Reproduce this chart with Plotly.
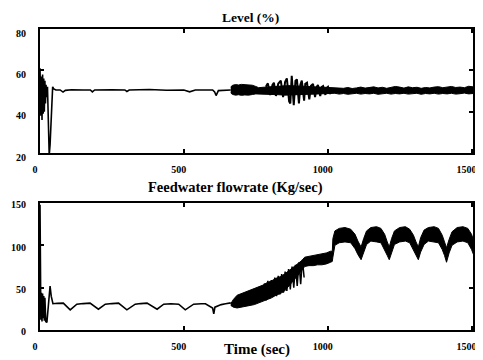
import plotly.graph_objects as go

# ---------------- Level (%) ----------------
level_t = [0, 1, 3, 5, 7, 9, 11, 13, 15, 17, 19, 21, 23, 26, 29, 32, 35, 38, 41, 44, 48,
           55, 70, 80, 88, 95, 110, 150, 175, 182, 190, 250, 295, 302, 310, 380, 440,
           500, 520, 540, 560, 600, 607, 612, 620, 640, 663]
level_v = [61, 45, 38, 57, 36, 58, 39, 56, 40, 55, 44, 53, 47, 52, 38, 19, 24, 36, 48, 52, 51,
           50.5, 50.5, 49.5, 50.3, 50.5, 50.6, 50.5, 50.5, 49.6, 50.5, 50.6, 50.5, 49.8, 50.5, 50.7, 50.4,
           50.5, 49.6, 50.5, 50.6, 50.5, 49.5, 47.8, 50.2, 50.5, 50.5]

level_band_t = [663, 670, 680, 690, 700, 712, 725, 738, 750, 760, 775, 790, 810, 830, 850, 870,
                890, 910, 930, 950, 970, 990, 1010, 1025, 1040, 1055, 1070, 1085, 1100, 1115,
                1130, 1145, 1160, 1175, 1190, 1205, 1220, 1235, 1250, 1265, 1280, 1295, 1310,
                1325, 1340, 1355, 1370, 1385, 1400, 1415, 1430, 1445, 1460, 1475, 1490, 1505, 1517]
level_band_hi = [52.0, 52.8, 53.1, 52.9, 53.2, 53.0, 53.1, 52.8, 52.2, 51.6, 51.8, 52.0, 52.2, 52.4,
                 52.5, 52.6, 52.4, 52.3, 52.1, 52.0, 51.9, 51.8, 51.7, 51.4, 51.6, 51.3, 51.7, 51.2,
                 51.5, 51.9, 51.4, 51.6, 52.0, 51.5, 51.8, 51.3, 51.7, 52.2, 51.9, 51.4, 52.0, 51.6,
                 51.8, 51.3, 51.7, 51.5, 51.9, 52.1, 51.6, 51.8, 52.2, 51.7, 51.9, 51.6, 52.3, 52.0, 51.8]
level_band_lo = [49.0, 48.3, 48.0, 48.2, 47.9, 48.1, 48.0, 48.3, 48.6, 48.9, 48.7, 48.5, 48.3, 48.2,
                 48.0, 48.0, 48.1, 48.2, 48.4, 48.5, 48.6, 48.7, 48.7, 48.9, 48.5, 48.8, 48.4, 48.7,
                 48.9, 48.5, 48.8, 48.6, 48.9, 48.4, 48.7, 48.9, 48.5, 48.8, 48.6, 48.9, 48.5, 48.7,
                 48.9, 48.4, 48.8, 48.6, 48.9, 48.5, 48.8, 48.6, 48.9, 48.5, 48.7, 49.0, 48.6, 48.8, 48.5]

level_osc_t = [785, 792, 800, 808, 813, 820, 828, 837, 845, 852, 858, 866, 870, 875, 882, 888,
               893, 900, 905, 910, 918, 922, 928, 936, 942, 949, 956, 962, 966, 974, 980, 984,
               992, 996, 1001, 1008, 1012]
level_osc_v = [52.0, 53.7, 48.0, 53.0, 54.0, 47.6, 53.5, 55.0, 47.0, 54.5, 56.1, 45.0, 44.0, 57.3,
               43.2, 55.0, 55.6, 44.0, 53.0, 55.0, 45.3, 53.5, 54.0, 46.0, 52.5, 53.4, 47.0, 52.0,
               52.9, 47.6, 52.0, 52.4, 48.1, 51.5, 52.1, 48.6, 50.5]

# ---------------- Feedwater flowrate (Kg/sec) ----------------
fw_t = [0, 0.5, 1, 3, 5, 7, 9, 11, 13, 15, 17, 20, 24, 28, 32, 35, 39, 45, 60, 81, 105, 128,
        150, 174, 203, 227, 250, 273, 302, 331, 350, 372, 407, 430, 455, 482, 505, 534, 560,
        575, 600, 604, 608, 615, 630, 645, 663]
fw_v = [148, 122, 42, 12, 44, 10, 43, 14, 40, 11, 38, 10, 9, 25, 46, 52, 40, 31, 31.5, 31.7, 23.8,
        30.5, 31.2, 31.7, 24.6, 30.5, 31.2, 31.7, 23.8, 30.5, 31.2, 31.7, 24.6, 30.5, 31, 30.5,
        23.8, 30.5, 31, 31, 26, 19, 27, 28, 30, 31, 32]

fw_band_t = [663, 672, 685, 700, 715, 730, 745, 760, 775, 790, 805, 820, 835, 850, 865, 880, 895,
             910, 920, 935, 950, 965, 980, 995, 1010, 1016, 1018, 1025, 1040, 1060, 1080, 1095,
             1105, 1116, 1125, 1135, 1150, 1170, 1185, 1198, 1207, 1214, 1222, 1232, 1250, 1270,
             1285, 1298, 1307, 1315, 1323, 1335, 1350, 1370, 1385, 1398, 1406, 1413, 1422, 1432,
             1450, 1470, 1487, 1500, 1510, 1517]
fw_band_hi = [31, 36, 41, 43, 45, 47, 49, 51, 53, 56, 58, 61, 63, 66, 70, 73, 77,
              82, 86, 87, 88, 89, 90, 91, 93, 93, 108, 117, 120, 121, 119, 113,
              105, 98, 108, 117, 121, 122, 120, 113, 104, 98, 108, 117, 121, 122,
              119, 112, 104, 98, 109, 118, 121, 122, 120, 112, 104, 97, 107, 116,
              121, 122, 120, 113, 103, 96]
fw_band_lo = [29, 27, 26, 27, 28, 29, 30, 32, 34, 36, 38, 41, 43, 46, 52, 58, 64,
              70, 75, 76, 76, 77, 77, 78, 80, 81, 86, 100, 103, 104, 103, 96,
              89, 83, 92, 101, 105, 104, 103, 95, 88, 83, 92, 101, 104, 105,
              103, 95, 88, 83, 92, 101, 105, 104, 103, 95, 88, 80, 91, 100,
              104, 105, 103, 95, 86, 80]

fw_osc_t = [780, 786, 792, 798, 804, 810, 816, 822, 828, 834, 840, 846, 852, 858, 864, 870,
            876, 882, 888, 894, 900, 906, 912, 918]
fw_osc_v = [55, 35, 58, 37, 59, 39, 62, 40, 64, 42, 66, 44, 69, 46, 72, 48, 75, 50, 77, 52,
            80, 54, 83, 62]

x_ticks = [0, 500, 1000, 1500]
level_ticks = [20, 40, 60, 80]
fw_ticks = [0, 50, 100, 150]

assert len(level_t) == len(level_v)
assert len(level_band_t) == len(level_band_hi) == len(level_band_lo)
assert len(level_osc_t) == len(level_osc_v)
assert len(fw_t) == len(fw_v)
assert len(fw_band_t) == len(fw_band_hi) == len(fw_band_lo)
assert len(fw_osc_t) == len(fw_osc_v)

INK = "black"
fig = go.Figure()

def band(ts, hi, lo, xa, ya):
    return go.Scatter(x=ts + ts[::-1], y=hi + lo[::-1], fill="toself", fillcolor=INK,
                      mode="lines", line=dict(color=INK, width=1), xaxis=xa, yaxis=ya,
                      hoverinfo="skip", showlegend=False)

def line(ts, vs, xa, ya, w=1.6):
    return go.Scatter(x=ts, y=vs, mode="lines", line=dict(color=INK, width=w),
                      xaxis=xa, yaxis=ya, showlegend=False)

fig.add_trace(line(level_t, level_v, "x", "y"))
fig.add_trace(band(level_band_t, level_band_hi, level_band_lo, "x", "y"))
fig.add_trace(line(level_osc_t, level_osc_v, "x", "y", 2))

fig.add_trace(line(fw_t, fw_v, "x2", "y2"))
fig.add_trace(band(fw_band_t, fw_band_hi, fw_band_lo, "x2", "y2"))
fig.add_trace(line(fw_osc_t, fw_osc_v, "x2", "y2", 1.5))

tickfont = dict(family="Liberation Serif", size=10, color=INK, weight="bold")
ax_common = dict(showline=True, linecolor=INK, linewidth=2, mirror="ticks", ticks="inside",
                 ticklen=4, tickcolor=INK, tickwidth=1.5, showgrid=False, zeroline=False,
                 tickfont=tickfont, automargin=False)

# The page body has an 8px default margin, so the figure is sized 8px smaller
fig.update_layout(
    width=475, height=352,
    margin=dict(l=32, r=10, t=21, b=30),
    paper_bgcolor="white", plot_bgcolor="white",
    xaxis=dict(domain=[0, 1], range=[0, 1505], tickvals=x_ticks, anchor="y",
               ticklabelstandoff=6, ticklabelshift=-5, **ax_common),
    yaxis=dict(domain=[0.588, 1.0], range=[20, 80], tickvals=level_ticks, anchor="x",
               ticklabelstandoff=10, ticklabelshift=4, **ax_common),
    xaxis2=dict(domain=[0, 1], range=[0, 1505], tickvals=x_ticks, anchor="y2",
                ticklabelstandoff=6, ticklabelshift=-5, **ax_common),
    yaxis2=dict(domain=[0, 0.422], range=[0, 150], tickvals=fw_ticks, anchor="x2",
                ticklabelstandoff=10, ticklabelshift=2, **ax_common),
    showlegend=False,
)

fig.add_annotation(text="<b>Level (%)</b>", xref="paper", yref="paper", x=0.486, y=1.0698,
                   xanchor="center", yanchor="top", showarrow=False,
                   font=dict(family="Liberation Serif", size=13.5, color=INK))
fig.add_annotation(text="<b>Feedwater flowrate (Kg/sec)</b>", xref="paper", yref="paper",
                   x=0.452, y=0.475, xanchor="center", yanchor="middle", showarrow=False,
                   font=dict(family="Liberation Serif", size=14.5, color=INK))
fig.add_annotation(text="<b>Time (sec)</b>", xref="paper", yref="paper", x=0.501, y=-0.066,
                   xanchor="center", yanchor="middle", showarrow=False,
                   font=dict(family="Liberation Serif", size=15, color=INK))

fig.write_html("out.html")
